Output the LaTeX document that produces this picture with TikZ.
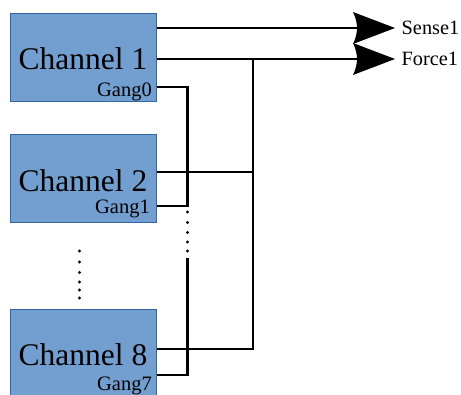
\documentclass[tikz,border=0pt]{standalone}
\usepackage{fontspec}
\setmainfont{Liberation Serif}
\definecolor{boxfill}{HTML}{729FCF}
\definecolor{boxedge}{HTML}{3465A4}
\tikzset{
  chanbox/.style={draw=boxedge, line width=1pt, fill=boxfill,
    minimum width=146pt, minimum height=88pt, inner sep=0pt},
  chanlabel/.style={anchor=base, inner sep=0pt, font=\fontsize{31.5}{36}\selectfont},
  ganglabel/.style={anchor=base east, inner sep=0pt, font=\fontsize{20.5}{24}\selectfont},
  siglabel/.style={anchor=west, inner sep=0pt, font=\fontsize{20.3}{24}\selectfont},
  wire/.style={line width=2.6pt, line cap=butt},
  dotmark/.style={circle, fill=black, inner sep=0pt, minimum size=3.4pt},
  % concave-backed arrowhead, tip at the pic origin pointing right
  bigtip/.pic={
    \fill (0,0) -- (-42,-16)
      .. controls (-39,-10) and (-38,-4) .. (-38,0)
      .. controls (-38,4) and (-39,10) .. (-42,16) -- cycle;
  }
}
\begin{document}
\begin{tikzpicture}[x=1pt, y=-1pt]
  \useasboundingbox (0,0) rectangle (461,395);
  \clip (0,0) rectangle (461,395);
  \fill[white] (0,0) rectangle (461,395);

  % channel blocks
  \node[chanbox] (c1) at (83,58) {};
  \node[chanbox] (c2) at (83,179) {};
  \node[chanbox] (c8) at (83,354) {};

  \node[chanlabel] (c1t) at (83,70) {Channel 1};
  \node[chanlabel] (c2t) at (83,191.5) {Channel 2};
  \node[chanlabel] (c8t) at (83,366) {Channel 8};

  \node[ganglabel] (g0) at (152,97) {Gang0};
  \node[ganglabel] (g1) at (150,214) {Gang1};
  \node[ganglabel] (g7) at (152,391) {Gang7};

  % output signals
  \coordinate (stip) at (395,28);
  \coordinate (ftip) at (395,59);
  \coordinate (sback) at (362,28);
  \coordinate (fback) at (362,59);
  \node[siglabel] (sense) at (401.5,28) {Sense1};
  \node[siglabel] (force) at (401.5,59) {Force1};

  % junction points
  \coordinate (fbus) at (253,59);
  \coordinate (fbusend) at (253,349);
  \coordinate (gtop) at (187.5,87);
  \coordinate (gmid) at (187.5,206);
  \coordinate (glow) at (187.5,258);
  \coordinate (gbot) at (187.5,375);

  % sense and force lines
  \draw[wire] (c1.east |- stip) -- (sback);
  \draw[wire] (c1.east |- ftip) -- (fback);
  \pic at (stip) {bigtip};
  \pic at (ftip) {bigtip};

  % force bus to each channel
  \draw[wire] (fbus) -- (fbusend) -- (c8.east |- fbusend);
  \draw[wire] (c2.east |- 0,172) -- (fbus |- 0,172);

  % gang chain
  \draw[wire] (c1.east |- gtop) -- (gtop) -- (gmid) -- (c2.east |- gmid);
  \draw[wire] (glow) -- (gbot) -- (c8.east |- gbot);

  % continuation dots
  \foreach \yy [count=\i] in {212,222.5,232.5,242,251}
    \node[dotmark] (gd\i) at (187.5,\yy) {};
  \foreach \yy [count=\i] in {251,262,272.5,282,290,298}
    \node[dotmark] (cd\i) at (79.5,\yy) {};
\end{tikzpicture}
\end{document}
